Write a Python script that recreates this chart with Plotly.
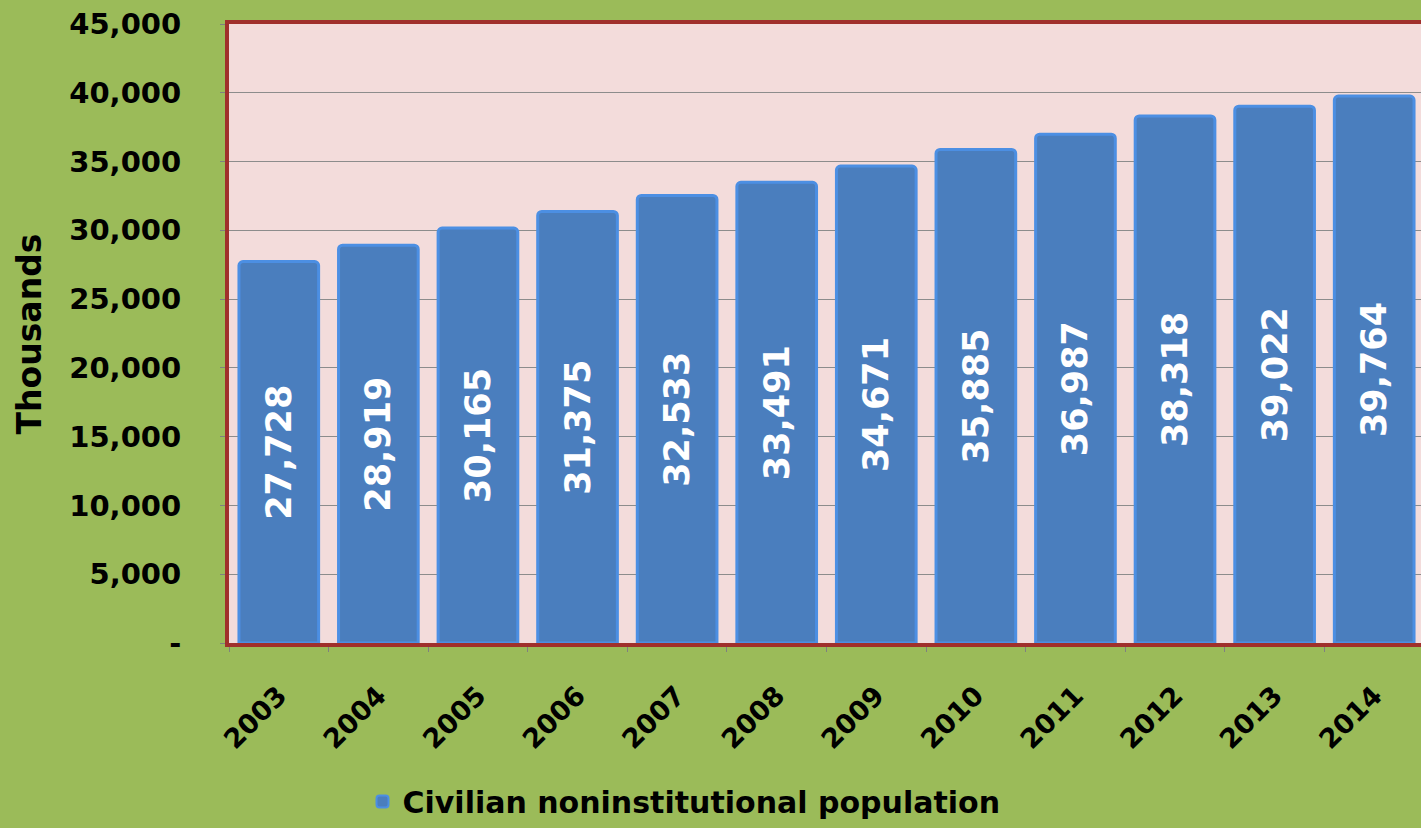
import plotly.graph_objects as go

years = ["2003", "2004", "2005", "2006", "2007", "2008", "2009", "2010", "2011", "2012", "2013", "2014"]
population = [27728, 28919, 30165, 31375, 32533, 33491, 34671, 35885, 36987, 38318, 39022, 39764]
series_name = "Civilian noninstitutional population"
y_tick_vals = [0, 5000, 10000, 15000, 20000, 25000, 30000, 35000, 40000, 45000]
y_tick_text = ["-", "5,000", "10,000", "15,000", "20,000", "25,000", "30,000", "35,000", "40,000", "45,000"]

FONT = "DejaVu Sans"
GREEN = "#9BBB59"
PINK = "#F3DCDB"
RED = "#A0302B"

fig = go.Figure()
fig.add_trace(go.Bar(
    x=years, y=population, name=series_name,
    marker=dict(color="#4A7EBE", line=dict(color="#4C8FE3", width=3), cornerradius=4),
    texttemplate="%{y:,}", textposition="inside", insidetextanchor="middle",
    textangle=-90, constraintext="none",
    textfont=dict(family=FONT, size=35, color="white", weight="bold"),
))

fig.update_layout(
    width=1421, height=828,
    paper_bgcolor=GREEN, plot_bgcolor=PINK,
    margin=dict(l=229, r=0, t=24, b=180),
    bargap=0.2,
    showlegend=True,
    legend=dict(orientation="h", x=0.112, xanchor="left", y=-0.256, yanchor="middle",
                font=dict(family=FONT, size=30, color="black", weight="bold"),
                bgcolor="rgba(0,0,0,0)", itemsizing="constant"),
    font=dict(family=FONT, color="black"),
)
fig.update_xaxes(
    type="category", range=[-0.5, 11.47],
    showline=True, linecolor=RED, linewidth=4, mirror=True,
    ticks="outside", tickson="boundaries", ticklen=5, tickcolor="#808080",
    tickangle=-45, ticklabelstandoff=22,
    tickfont=dict(family=FONT, size=27, color="black", weight="bold"),
    showgrid=False, layer="below traces",
)
fig.update_yaxes(
    range=[0, 45000], tickvals=y_tick_vals, ticktext=y_tick_text,
    showline=True, linecolor=RED, linewidth=4,
    ticks="outside", ticklen=5, tickcolor="#808080", ticklabelstandoff=33,
    tickfont=dict(family=FONT, size=29, color="black", weight="bold"),
    showgrid=True, gridcolor="#8C8C8C", gridwidth=1, zeroline=False,
    layer="below traces",
)
fig.add_annotation(
    text="Thousands", textangle=-90, xref="paper", yref="paper",
    x=-0.167, y=0.5, showarrow=False, xanchor="center", yanchor="middle",
    font=dict(family=FONT, size=33, color="black", weight="bold"),
)
fig.write_html("out.html", config={"displayModeBar": False},
               post_script="document.body.style.margin='0';document.body.style.overflow='hidden';")
